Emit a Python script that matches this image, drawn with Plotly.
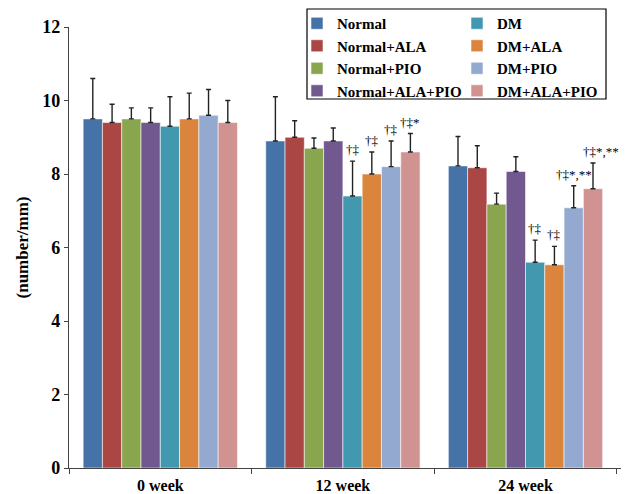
import plotly.graph_objects as go

categories = ["0 week", "12 week", "24 week"]
groups = ["Normal", "Normal+ALA", "Normal+PIO", "Normal+ALA+PIO",
          "DM", "DM+ALA", "DM+PIO", "DM+ALA+PIO"]
means = {
    "Normal":         [9.5, 8.9, 8.22],
    "Normal+ALA":     [9.4, 9.0, 8.17],
    "Normal+PIO":     [9.5, 8.7, 7.18],
    "Normal+ALA+PIO": [9.4, 8.9, 8.07],
    "DM":             [9.3, 7.4, 5.6],
    "DM+ALA":         [9.5, 8.0, 5.53],
    "DM+PIO":         [9.6, 8.2, 7.08],
    "DM+ALA+PIO":     [9.4, 8.6, 7.6],
}
sds = {
    "Normal":         [1.1, 1.2, 0.8],
    "Normal+ALA":     [0.5, 0.45, 0.6],
    "Normal+PIO":     [0.3, 0.28, 0.3],
    "Normal+ALA+PIO": [0.4, 0.35, 0.4],
    "DM":             [0.8, 0.95, 0.6],
    "DM+ALA":         [0.7, 0.6, 0.5],
    "DM+PIO":         [0.7, 0.7, 0.6],
    "DM+ALA+PIO":     [0.6, 0.5, 0.7],
}
# significance marks: (group, category index, text)
marks = [
    ("DM", 1, "†‡"), ("DM+ALA", 1, "†‡"), ("DM+PIO", 1, "†‡"), ("DM+ALA+PIO", 1, "†‡*"),
    ("DM", 2, "†‡"), ("DM+ALA", 2, "†‡"), ("DM+PIO", 2, "†‡*,**"), ("DM+ALA+PIO", 2, "†‡*,**"),
]
colors = ["#4572A7", "#AA4643", "#89A54E", "#71588F",
          "#4198AF", "#DB843D", "#93A9CF", "#D19392"]

FONT = "Liberation Serif"
BARGAP = 0.155

fig = go.Figure()
for i, g in enumerate(groups):
    fig.add_trace(go.Bar(
        name=g, x=categories, y=means[g],
        marker=dict(color=colors[i], line=dict(color="rgba(255,255,255,0.7)", width=0.8)),
        error_y=dict(type="data", array=sds[g], symmetric=False, arrayminus=[0]*3,
                     color="#222222", thickness=1.4, width=2.5),
        legend="legend" if i < 4 else "legend2",
    ))

n = len(groups)
bw = (1 - BARGAP) / n
for g, k, txt in marks:
    i = groups.index(g)
    xpos = k - (1 - BARGAP) / 2 + (i + 0.5) * bw
    ytop = means[g][k] + sds[g][k]
    fig.add_annotation(x=xpos, y=ytop, xref="x", yref="y", text=txt,
                       showarrow=False, yanchor="bottom", yshift=2,
                       xshift=8 if (g == "DM+ALA+PIO" and k == 2) else 0,
                       font=dict(family=FONT, size=13, color="black"))

L, R, T, B = 69, 5, 27, 26
W, H = 626, 494
pw, ph = W - L - R, H - T - B

def px(x):
    return (x - L) / pw

def py(y):
    return (H - B - y) / ph

fig.add_shape(type="rect", xref="paper", yref="paper",
              x0=px(307), x1=px(606), y0=py(99), y1=py(9),
              line=dict(color="black", width=1.2), fillcolor="rgba(0,0,0,0)")

legend_font = dict(family=FONT, size=15, color="black", weight="bold")
fig.update_layout(
    width=W, height=H,
    margin=dict(l=L, r=R, t=T, b=B, autoexpand=False),
    paper_bgcolor="white", plot_bgcolor="white",
    barmode="group", bargap=BARGAP, bargroupgap=0,
    font=dict(family=FONT, color="black"),
    legend=dict(x=px(297), y=py(7), xanchor="left", yanchor="top",
                bgcolor="rgba(0,0,0,0)", font=legend_font, borderwidth=0),
    legend2=dict(x=px(457), y=py(7), xanchor="left", yanchor="top",
                 bgcolor="rgba(0,0,0,0)", font=legend_font, borderwidth=0),
    xaxis=dict(showline=True, linecolor="#444", linewidth=1.2, automargin=False,
               ticks="outside", tickson="boundaries", ticklen=5, tickcolor="#444",
               ticklabelstandoff=3,
               tickfont=dict(family=FONT, size=16, color="black", weight="bold"),
               showgrid=False),
    yaxis=dict(range=[0, 12], dtick=2, showline=True, linecolor="#444", linewidth=1.2,
               automargin=False,
               ticks="outside", ticklen=4, tickcolor="#444", showgrid=False, zeroline=False,
               tickfont=dict(family=FONT, size=18, color="black", weight="bold"),
               title=dict(text="(number/mm)", standoff=9,
                          font=dict(family=FONT, size=17, color="black", weight="bold"))),
)

fig.write_html("out.html", config={"displayModeBar": False},
               post_script="document.body.style.margin='0';")
